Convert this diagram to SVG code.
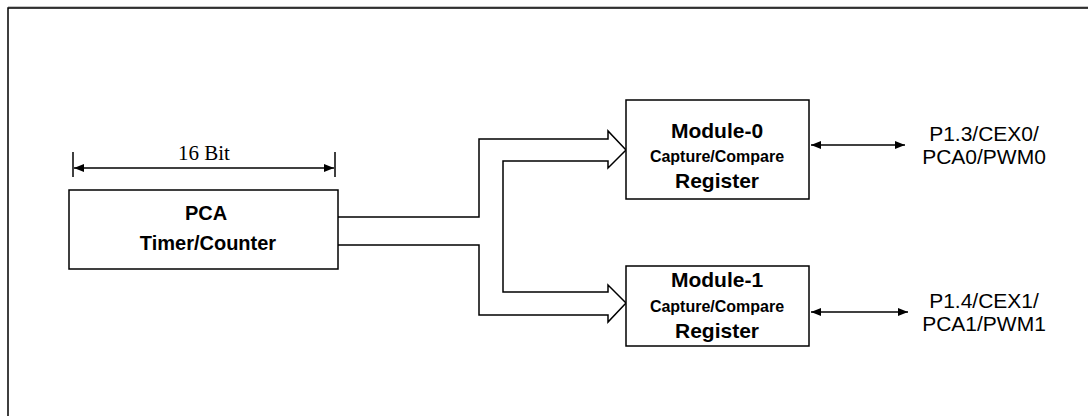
<svg xmlns="http://www.w3.org/2000/svg" width="1088" height="416" viewBox="0 0 1088 416">
<style>
.box{fill:#fff;stroke:#000;stroke-width:1.5}
.ln{fill:none;stroke:#000;stroke-width:1.5}
.t{font-family:"Liberation Sans",Arial,sans-serif;fill:#000;text-anchor:middle}
.b{font-weight:bold}
.big{font-size:20px}
.mod{font-size:21px}
.small{font-size:16px}
.port{font-size:21px}
.serif{font-family:"Liberation Serif","Times New Roman",serif;font-size:21px;text-anchor:middle;fill:#000}
</style>
<defs>
<marker id="ah" viewBox="0 0 10 10" refX="10" refY="5" markerWidth="10" markerHeight="10" markerUnits="userSpaceOnUse" orient="auto-start-reverse">
<path d="M0,1 L10,5 L0,9 Z" fill="#000"/>
</marker>
</defs>
<rect width="1088" height="416" fill="#fff"/>
<g id="frame">
<line x1="8" y1="7" x2="1088" y2="7" stroke="#888" stroke-width="1"/>
<path class="ln" d="M8,416 V8 H1088"/>
</g>
<g id="dimension">
<line class="ln" x1="73" y1="152" x2="73" y2="177"/>
<line class="ln" x1="335" y1="152" x2="335" y2="177"/>
<line class="ln" x1="74" y1="168" x2="334" y2="168" marker-start="url(#ah)" marker-end="url(#ah)"/>
<text class="serif" x="204" y="160">16 Bit</text>
</g>
<g id="connectors">
<path class="ln" d="M338,217 H479 V139 H608 V131 L626,150 L608,168 V161 H503 V292 H608 V285 L626,303 L608,322 V315 H479 V245 H338"/>
<line class="ln" x1="811" y1="145" x2="905" y2="145" marker-start="url(#ah)" marker-end="url(#ah)"/>
<line class="ln" x1="811" y1="312" x2="908" y2="312" marker-start="url(#ah)" marker-end="url(#ah)"/>
</g>
<g id="pca">
<rect class="box" x="69" y="190" width="269" height="79"/>
<text class="t b big" x="206" y="220">PCA</text>
<text class="t b big" x="208" y="250">Timer/Counter</text>
</g>
<g id="module0">
<rect class="box" x="626" y="100" width="183" height="99"/>
<text class="t b mod" x="717" y="138">Module-0</text>
<text class="t b small" x="717" y="162">Capture/Compare</text>
<text class="t b mod" x="717" y="188">Register</text>
</g>
<g id="module1">
<rect class="box" x="626" y="266" width="183" height="80"/>
<text class="t b mod" x="717" y="287">Module-1</text>
<text class="t b small" x="717" y="312">Capture/Compare</text>
<text class="t b mod" x="717" y="338">Register</text>
</g>
<g id="port0">
<text class="t port" x="984" y="141">P1.3/CEX0/</text>
<text class="t port" x="984" y="164">PCA0/PWM0</text>
</g>
<g id="port1">
<text class="t port" x="984" y="308">P1.4/CEX1/</text>
<text class="t port" x="984" y="331">PCA1/PWM1</text>
</g>
</svg>
